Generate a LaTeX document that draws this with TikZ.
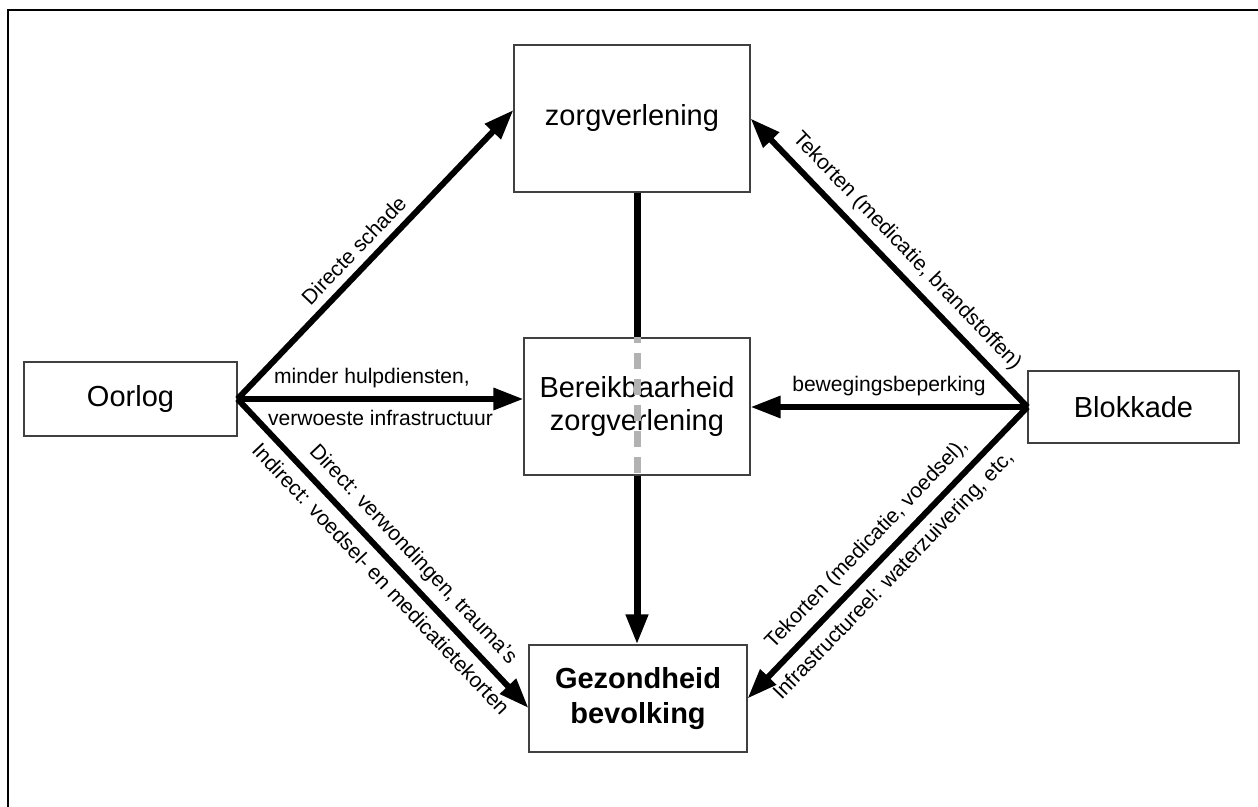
\documentclass[tikz,border=0pt]{standalone}
\usepackage{fontspec}
\setmainfont{Liberation Sans}
\usetikzlibrary{arrows.meta}

\begin{document}
\begin{tikzpicture}[
  box/.style={draw=black!75, line width=0.6pt, fill=white, inner sep=0pt, align=center, font=\fontsize{16.5}{18.5}\selectfont},
  flow/.style={line width=0.12cm, -{Triangle[length=0.6cm,width=0.42cm]}},
  lbl/.style={sloped, inner sep=4.5pt, font=\fontsize{12}{14}\selectfont}
]
\def\u{0.02cm}
\useasboundingbox (0,0) rectangle (1258*\u, -807*\u);
\draw[line width=0.6pt] (8*\u, -807*\u) -- (8*\u, -10*\u) -- (1258*\u, -10*\u);

\node[box, minimum width=236*\u, minimum height=147*\u] (zorg) at (632*\u, -118.5*\u) {zorgverlening};
\node[box, minimum width=213*\u, minimum height=74*\u] (oorlog) at (130.5*\u, -399*\u) {Oorlog};
\node[box, minimum width=226*\u, minimum height=137*\u] (bereik) at (637*\u, -406.5*\u) {Bereikbaarheid\\zorgverlening};
\node[box, minimum width=211*\u, minimum height=72*\u] (blokkade) at (1133.5*\u, -407*\u) {Blokkade};
\node[box, minimum width=218*\u, minimum height=107*\u, font=\bfseries\fontsize{16.5}{20}\selectfont] (gez) at (638*\u, -698.5*\u) {Gezondheid\\bevolking};

\draw[line width=0.14cm] (bereik.north |- zorg.south) -- (bereik.north);
\draw[line width=0.14cm, black!30, dash pattern=on 0.32cm off 0.2cm, dash phase=0.2cm] (bereik.north) -- (bereik.south);
\draw[flow, line width=0.14cm] (bereik.south) -- (bereik.south |- gez.north);

\draw[flow] (oorlog.east) -- ([yshift=0.17cm]zorg.west)
  node[lbl, above, pos=0.47] {Directe schade};
\draw[flow] (oorlog.east) -- (bereik.west |- oorlog.east)
  node[lbl, above, pos=0.47] {minder hulpdiensten,}
  node[lbl, below, pos=0.5] {verwoeste infrastructuur};
\draw[flow] (oorlog.east) -- ([yshift=-0.19cm]gez.west)
  node[lbl, above, pos=0.55] {Direct: verwondingen, trauma's}
  node[lbl, below, pos=0.54] {Indirect: voedsel- en medicatietekorten};

\draw[flow] (blokkade.west) -- (zorg.east)
  node[lbl, above, pos=0.49] {Tekorten (medicatie, brandstoffen)};
\draw[flow] (blokkade.west) -- (bereik.east |- blokkade.west)
  node[lbl, above, pos=0.5] {bewegingsbeperking};
\draw[flow] (blokkade.west) -- (gez.east)
  node[lbl, above, pos=0.52] {Tekorten (medicatie, voedsel),}
  node[lbl, below, pos=0.53] {Infrastructureel: waterzuivering, etc,};
\end{tikzpicture}
\end{document}
